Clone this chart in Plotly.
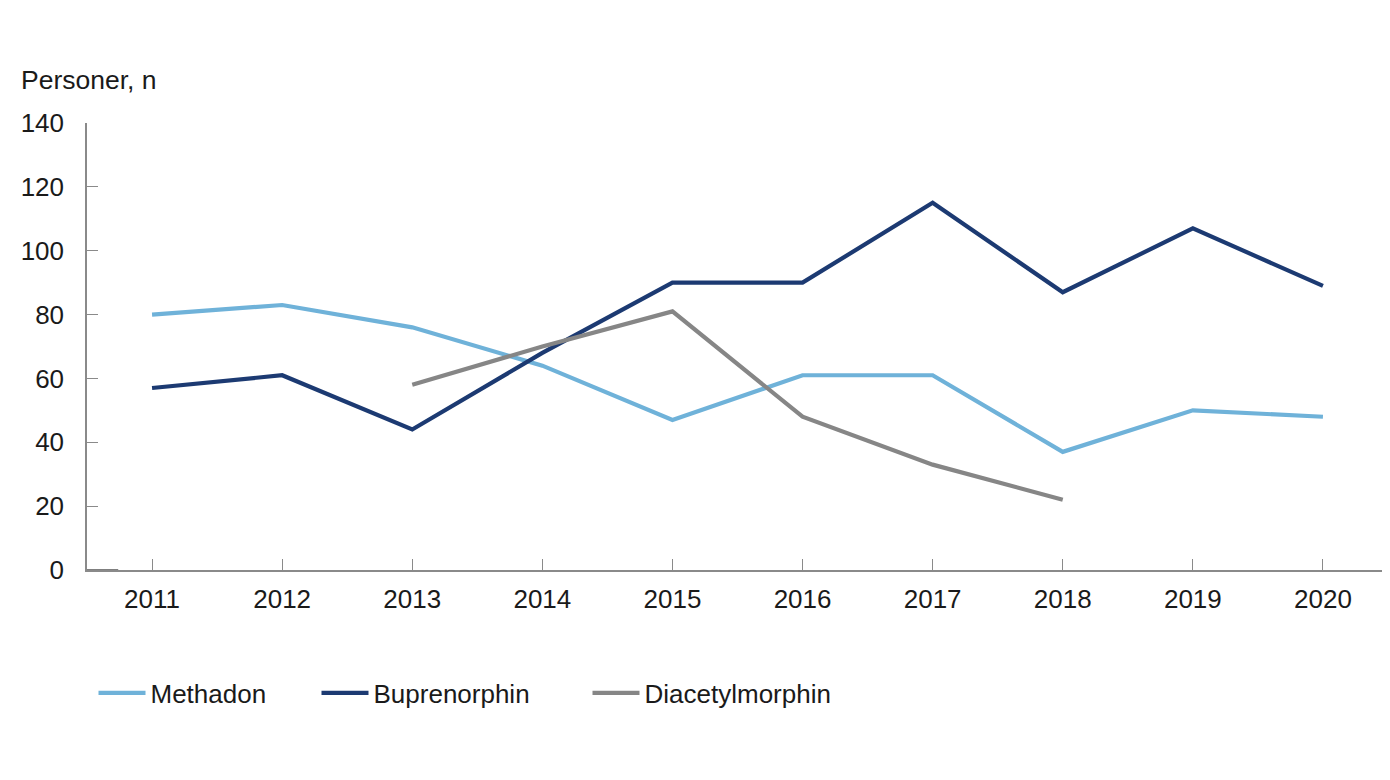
import plotly.graph_objects as go

years = [2011, 2012, 2013, 2014, 2015, 2016, 2017, 2018, 2019, 2020]
methadon = [80, 83, 76, 64, 47, 61, 61, 37, 50, 48]
buprenorphin = [57, 61, 44, 68, 90, 90, 115, 87, 107, 89]
diacetylmorphin = [None, None, 58, 70, 81, 48, 33, 22, None, None]
y_ticks = [0, 20, 40, 60, 80, 100, 120, 140]

font = "Liberation Sans, Arial, Helvetica, sans-serif"

series = [
    ("Methadon", methadon, "#6FB2D9", "legend", 0.005),
    ("Buprenorphin", buprenorphin, "#1C3A72", "legend2", 0.1764),
    ("Diacetylmorphin", diacetylmorphin, "#868686", "legend3", 0.3847),
]

fig = go.Figure()
legends = {}
for name, vals, col, lg, lx in series:
    fig.add_trace(go.Scatter(x=years, y=vals, name=name, mode="lines",
                             line=dict(color=col, width=4.2), connectgaps=False,
                             legend=lg))
    legends[lg] = dict(orientation="h", x=lx, xanchor="left", y=-0.275,
                       yanchor="middle", font=dict(size=26), itemwidth=47,
                       bgcolor="rgba(0,0,0,0)")

fig.update_layout(
    width=1382, height=772,
    paper_bgcolor="white", plot_bgcolor="white",
    margin=dict(l=79, r=2, t=115, b=210),
    font=dict(family=font, size=26, color="#1a1a1a"),
    showlegend=True,
    annotations=[dict(text="Personer, n", xref="paper", yref="paper",
                      x=-0.0525, y=1.096, xanchor="left", yanchor="middle",
                      showarrow=False, font=dict(size=26.5))],
    **legends,
)
fig.update_xaxes(range=[2010.5, 2020.5], tickmode="array", tickvals=years,
                 ticktext=[str(y) for y in years], showgrid=False, zeroline=False,
                 showline=True, linecolor="#8a8a8a", linewidth=1.5,
                 ticks="inside", ticklen=11, tickcolor="#8a8a8a", tickwidth=1.2,
                 ticklabelstandoff=5)
fig.update_yaxes(range=[0, 140], tickvals=y_ticks, showgrid=False, zeroline=False,
                 showline=True, linecolor="#8a8a8a", linewidth=1.5,
                 ticks="inside", ticklen=11, tickcolor="#8a8a8a", tickwidth=1.2,
                 ticklabelstandoff=16)
fig.add_shape(type="line", xref="paper", yref="y", x0=0, x1=0.024, y0=0, y1=0,
              line=dict(color="#555555", width=1.5))

fig.write_html("out.html")
